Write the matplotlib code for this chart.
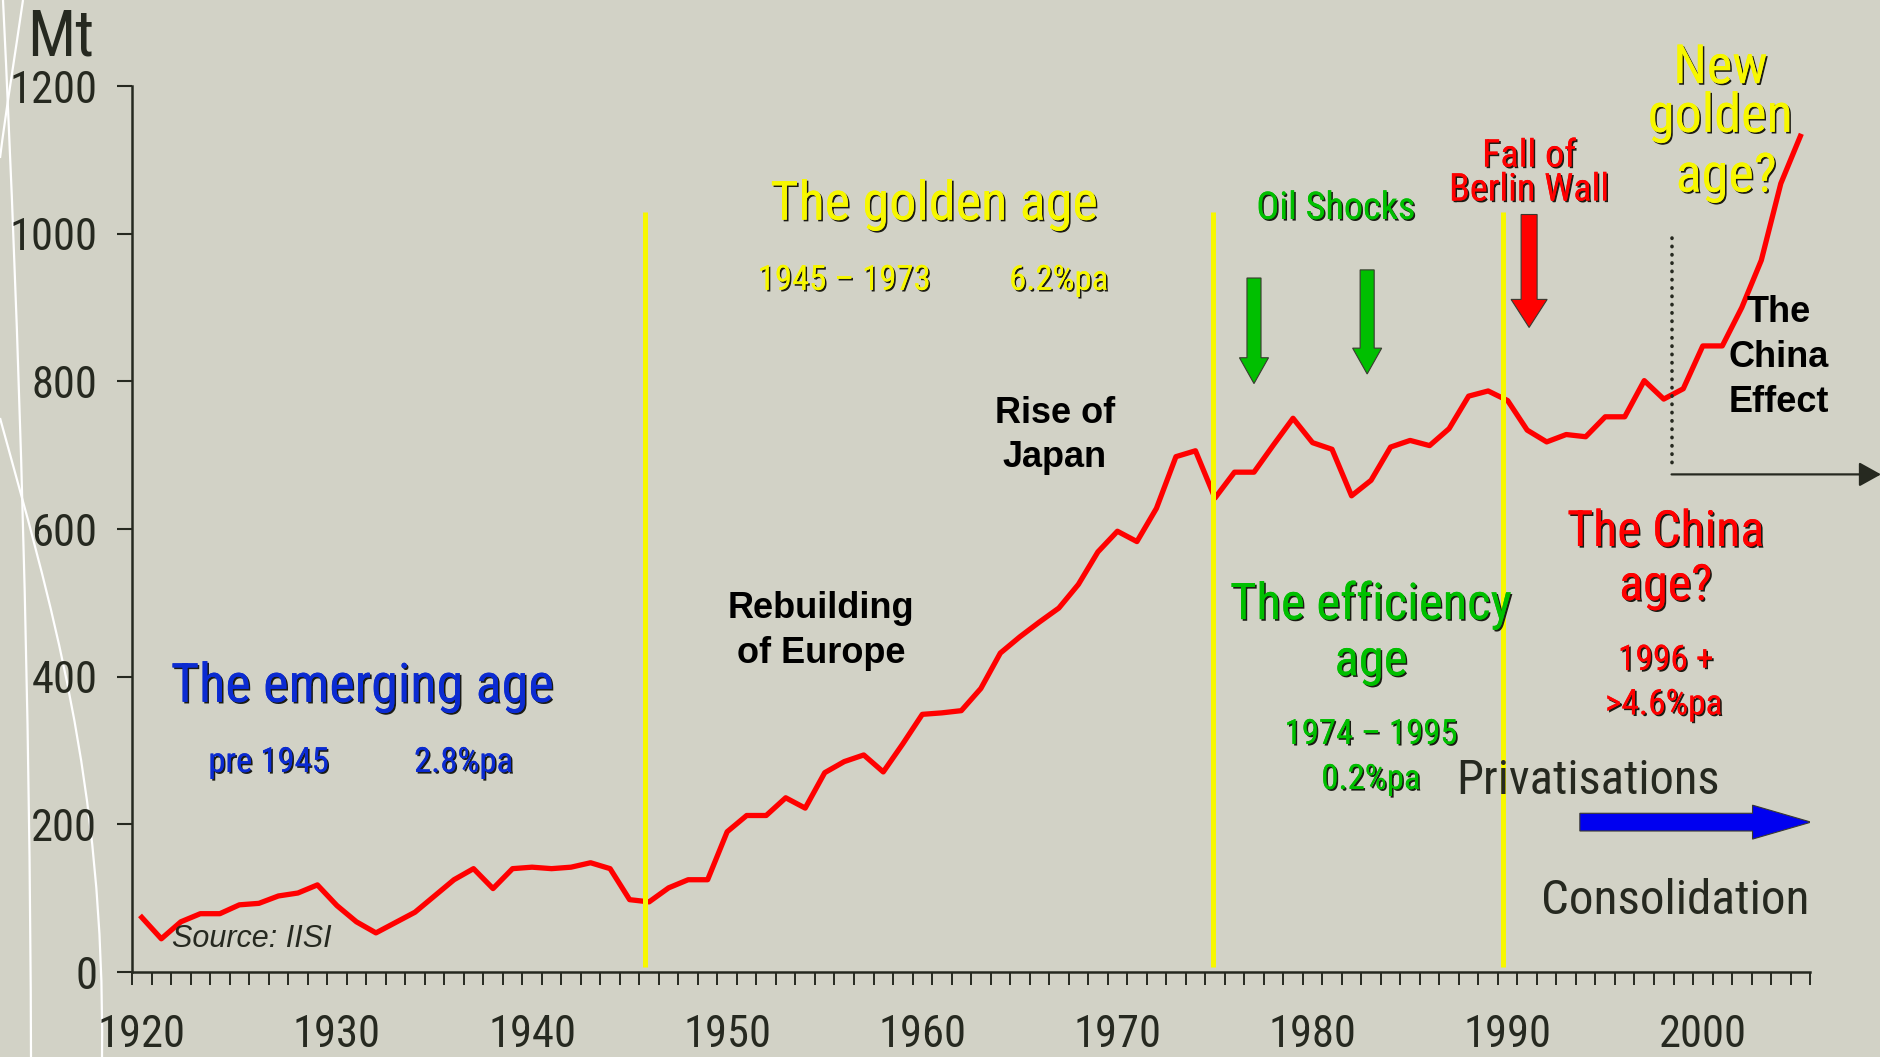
import numpy as np
import matplotlib.pyplot as plt
import matplotlib.patheffects as pe
from matplotlib import font_manager
from matplotlib.path import Path
from matplotlib.patches import PathPatch

# World crude steel production, million tonnes (Mt)
years = list(range(1920, 2006))
output = [74, 45, 68, 79, 79, 91, 93, 103, 107, 118,
          90, 68, 53, 67, 81, 103, 125, 140, 113, 140,
          142, 140, 142, 148, 140, 98, 95, 114, 125, 125,
          190, 212, 212, 236, 222, 270, 285, 294, 271, 309,
          349, 351, 354, 384, 432, 454, 474, 493, 525, 569,
          597, 583, 628, 698, 706, 642, 677, 677, 714, 750,
          717, 708, 645, 666, 711, 720, 713, 736, 780, 787,
          774, 734, 718, 728, 725, 752, 752, 801, 776, 790,
          848, 848, 900, 964, 1068, 1132]

era_bounds = [1945.8, 1974.9, 1989.75]   # yellow dividers
oil_shocks = [1977.0, 1982.8]            # green arrows
berlin_wall = 1991.1                     # red arrow
china_start = 1998.4                     # dotted marker
x_labels = list(range(1920, 2001, 10))
y_ticks = list(range(0, 1201, 200))

bg = '#d2d2c6'
dark = '#262920'
blue = '#0b2bd1'
yellow = '#f7f700'
green = '#00bf00'
red = '#ff0000'

names = {f.name for f in font_manager.fontManager.ttflist}
narrow = next((n for n in ['Liberation Sans Narrow', 'Arial Narrow', 'Roboto Condensed']
               if n in names), 'DejaVu Sans')
plt.rcParams['font.family'] = [narrow, 'DejaVu Sans']

fig = plt.figure(figsize=(18.81, 10.57), dpi=100, facecolor=bg)
ax = fig.add_axes([0.0702, 0.0804, 0.8921, 0.8382])
ax.set_facecolor(bg)

# white decorative swooshes at the left edge (figure pixels, y from top)
W, H = 1881.0, 1057.0
def swoosh(pts):
    verts = [(x / W, 1 - y / H) for x, y in pts]
    codes = [Path.MOVETO] + [Path.CURVE4] * (len(verts) - 1)
    fig.add_artist(PathPatch(Path(verts, codes), fc='none', ec='white', lw=1.6,
                             transform=fig.transFigure, zorder=-1))
swoosh([(3, 0), (20, 350), (30, 700), (31, 1057)])
swoosh([(23, 0), (15, 55), (6, 110), (0, 158)])
swoosh([(0, 418), (50, 600), (105, 780), (102, 1057)])

# main series
ax.plot(years, output, color=red, lw=3.8, zorder=3)
ax.vlines(era_bounds, 7, 1030, colors=yellow, lw=3.6, zorder=4)

# event arrows
for yr, top, tip in zip(oil_shocks, [940, 951], [797, 810]):
    ax.arrow(yr, top, 0, tip - top, width=0.72, head_width=1.49, head_length=35,
             length_includes_head=True, fc=green, ec='#3a3a30', lw=0.8, zorder=5)
ax.arrow(berlin_wall, 1026, 0, 873 - 1026, width=0.82, head_width=1.85, head_length=38,
         length_includes_head=True, fc=red, ec='#3a3a30', lw=0.8, zorder=5)
ax.arrow(1993.7, 203, 2005.55 - 1993.7, 0, width=24, head_width=46, head_length=3.0,
         length_includes_head=True, fc='#0000f0', ec='#3a3a30', lw=0.8, zorder=5)

# China effect marker
ax.plot([china_start, china_start], [994, 689], color=dark, lw=2.6,
        ls=(0, (0.1, 2.2)), dash_capstyle='round', zorder=5)
ax.annotate('', xy=(1.0, 674), xycoords=('figure fraction', 'data'),
            xytext=(china_start, 674), textcoords='data',
            arrowprops=dict(arrowstyle='-|>,head_length=0.45,head_width=0.25',
                            color=dark, lw=1.6, shrinkA=0, shrinkB=0, mutation_scale=30))

# axes styling
ax.set_xlim(1919.5, 2005.5)
ax.set_ylim(0, 1200)
for s in ['top', 'right']:
    ax.spines[s].set_visible(False)
for s in ['left', 'bottom']:
    ax.spines[s].set_color(dark)
    ax.spines[s].set_linewidth(1.8)
ax.set_xticks(x_labels)
ax.set_xticks(np.arange(1919.5, 2006, 1), minor=True)
ax.set_yticks(y_ticks)
ax.tick_params(axis='x', which='major', length=0, pad=30, labelsize=32, labelcolor=dark)
ax.tick_params(axis='x', which='minor', length=9.5, width=1.4, color=dark, direction='out')
ax.tick_params(axis='y', length=11, width=1.5, color=dark, pad=14, labelsize=32, labelcolor=dark)

shadow = [pe.withSimplePatchShadow(offset=(1.2, -1.2), shadow_rgbFace='#1b1b14', alpha=1.0),
          pe.Normal()]

def txt(x, y, s, size, color, shade=True, **kw):
    kw.setdefault('ha', 'center')
    ax.text(x, y, s, fontsize=size, color=color, va='baseline', zorder=6,
            path_effects=shadow if shade else [], **kw)

bold = dict(family=['Liberation Sans', 'DejaVu Sans'], weight='bold')

ax.text(1915.86, 1242, 'Mt', fontsize=46, color=dark, ha='center', va='baseline')

txt(1931.3, 366, 'The emerging age', 39, blue)
txt(1926.5, 271, 'pre 1945', 25, blue)
txt(1936.5, 271, '2.8%pa', 25, blue)
txt(1921.55, 34, 'Source: IISI', 22, dark, shade=False, ha='left', style='italic',
    family=['Liberation Sans', 'DejaVu Sans'])

txt(1954.8, 479, 'Rebuilding', 26, 'black', shade=False, **bold)
txt(1954.8, 418, 'of Europe', 26, 'black', shade=False, **bold)
txt(1966.8, 744, 'Rise of', 26, 'black', shade=False, **bold)
txt(1966.8, 684, 'Japan', 26, 'black', shade=False, **bold)

txt(1960.6, 1019, 'The golden age', 39, yellow)
txt(1956.0, 924, '1945 – 1973', 25, yellow)
txt(1967.0, 924, '6.2%pa', 25, yellow)

txt(1981.2, 1020, 'Oil Shocks', 27.5, green)
txt(1991.1, 1091, 'Fall of', 27.5, red)
txt(1991.1, 1045, 'Berlin Wall', 27.5, red)

txt(2000.9, 1204, 'New', 39, yellow)
txt(2000.9, 1138, 'golden', 39, yellow)
txt(2001.2, 1057, 'age?', 39, yellow)

txt(2003.9, 881, 'The', 26, 'black', shade=False, **bold)
txt(2003.9, 820, 'China', 26, 'black', shade=False, **bold)
txt(2003.9, 759, 'Effect', 26, 'black', shade=False, **bold)

txt(1983.0, 478, 'The efficiency', 36.5, green)
txt(1983.0, 402, 'age', 36.5, green)
txt(1983.0, 309, '1974 – 1995', 25, green)
txt(1983.0, 248, '0.2%pa', 25, green)

txt(1998.1, 577, 'The China', 36, red)
txt(1998.1, 504, 'age?', 36, red)
txt(1998.1, 409, '1996 +', 25.5, red)
txt(1998.0, 349, '>4.6%pa', 25.5, red)

txt(1994.1, 241, 'Privatisations', 35, dark, shade=False)
txt(1998.6, 78, 'Consolidation', 35.5, dark, shade=False)

fig.savefig('out.png', dpi=100, facecolor=bg)
